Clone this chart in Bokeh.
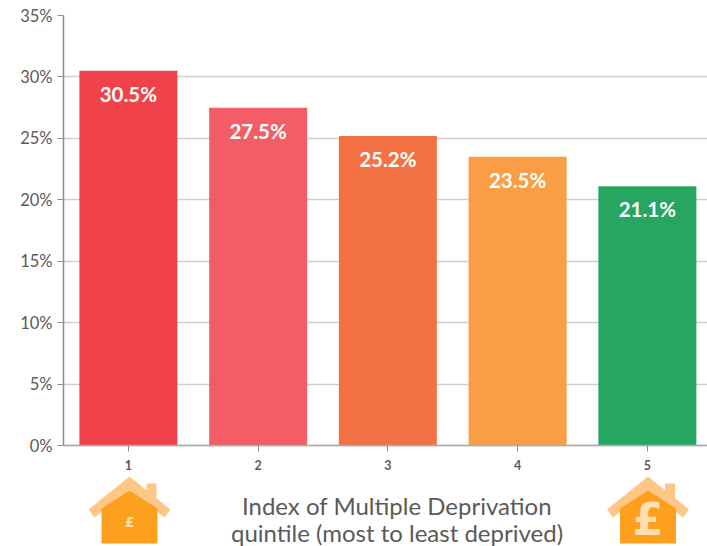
from bokeh.plotting import figure
from bokeh.embed import file_html
from bokeh.resources import INLINE
from bokeh.models import Range1d, LinearAxis, FixedTicker, ColumnDataSource
from bokeh.core.properties import value

quintiles = [1, 2, 3, 4, 5]
shares = [30.5, 27.5, 25.2, 23.5, 21.1]
bar_colors = ["#EF3B42", "#F35760", "#F46B3C", "#F99A3C", "#1EA25B"]
value_labels = ["30.5%", "27.5%", "25.2%", "23.5%", "21.1%"]
y_ticks = [0, 5, 10, 15, 20, 25, 30, 35]
y_tick_labels = {t: f"{t}%" for t in y_ticks}
title_lines = ["Index of Multiple Deprivation", "quintile (most to least deprived)"]

FONT = "Lato"
W, H = 707, 546
LEFT, TOP, ZERO = 63, 15, 445   # canvas px of y axis, 35% line and 0% line
STEP = 129.75
PX_PER_PCT = (ZERO - TOP) / 35

p = figure(width=W, height=H, output_backend="svg", toolbar_location=None,
           x_range=Range1d(0.5, 0.5 + (W - LEFT) / STEP),
           y_range=Range1d(-(H - ZERO) / PX_PER_PCT, 35),
           x_axis_location=None, min_border_left=LEFT, min_border_right=0,
           min_border_top=TOP, min_border_bottom=0)
p.extra_x_ranges["px"] = Range1d(LEFT, W)
p.extra_y_ranges["px"] = Range1d(H, TOP)
p.outline_line_color = None
p.background_fill_color = "white"
p.xgrid.visible = False
p.ygrid.ticker = FixedTicker(ticks=y_ticks)
p.ygrid.grid_line_color = "#CFCFCF"
p.ygrid.grid_line_width = 1.3

ya = p.yaxis[0]
ya.ticker = FixedTicker(ticks=y_ticks)
ya.bounds = (0, 35)
ya.major_label_overrides = y_tick_labels
ya.major_label_text_font = FONT
ya.major_label_text_font_size = "16.5px"
ya.major_label_text_color = "#5A5A5A"
ya.axis_line_color = "#8C8C8C"
ya.axis_line_width = 1.5
ya.major_tick_line_color = "#8C8C8C"
ya.major_tick_out = 6
ya.major_tick_in = 0
ya.minor_tick_line_color = None
ya.major_label_standoff = 5

xa = LinearAxis(fixed_location=0, ticker=FixedTicker(ticks=quintiles))
xa.major_label_text_font = FONT
xa.major_label_text_font_style = "bold"
xa.major_label_text_font_size = "12.5px"
xa.major_label_text_color = "#5A5A5A"
xa.axis_line_color = "#AAAAAA"
xa.axis_line_width = 1.5
xa.major_tick_line_color = "#8C8C8C"
xa.major_tick_out = 6
xa.major_tick_in = 0
xa.minor_tick_line_color = None
xa.major_label_standoff = 8
p.add_layout(xa, "below")

src = ColumnDataSource(dict(x=quintiles, top=shares, c=bar_colors, t=value_labels))
p.vbar(x="x", top="top", width=98 / STEP, source=src, fill_color="c", fill_alpha=0.96, line_color=None)
p.text(x="x", y="top", text="t", source=src, text_color="white", text_align="center",
       text_baseline="middle", y_offset=23, text_font=value(FONT), text_font_style="bold",
       text_font_size="20.5px")

def poly(points, color):
    p.patch([a for a, _ in points], [b for _, b in points], fill_color=color, line_color=None,
            x_range_name="px", y_range_name="px")

def label(x, y, text, size, color, style="normal", font=FONT):
    p.text([x], [y], text=[text], text_align="center", text_baseline="middle", text_color=color,
           text_font=value(font), text_font_style=style, text_font_size=f"{size}px",
           x_range_name="px", y_range_name="px")

def house(cx, glyph_size, glyph_y):
    poly([(cx+17, 483), (cx+27, 483), (cx+27, 505), (cx+17, 505)], "#FFC785")
    poly([(cx-41, 509), (cx, 476), (cx+41, 509), (cx+35, 517), (cx, 490), (cx-35, 517)], "#FFC785")
    poly([(cx-28, 543), (cx-28, 508), (cx, 490), (cx+28, 508), (cx+28, 543)], "#FCA01E")
    label(cx, glyph_y, "£", glyph_size, "#FFDFB0", "bold", "DejaVu Sans")

house(129, 14, 521)
house(647.5, 44, 519)

for line, py in zip(title_lines, [504.5, 531.5]):
    label(396.5, py, line, 24, "#5A5A5A")

open("out.html", "w").write(file_html(p, INLINE))
